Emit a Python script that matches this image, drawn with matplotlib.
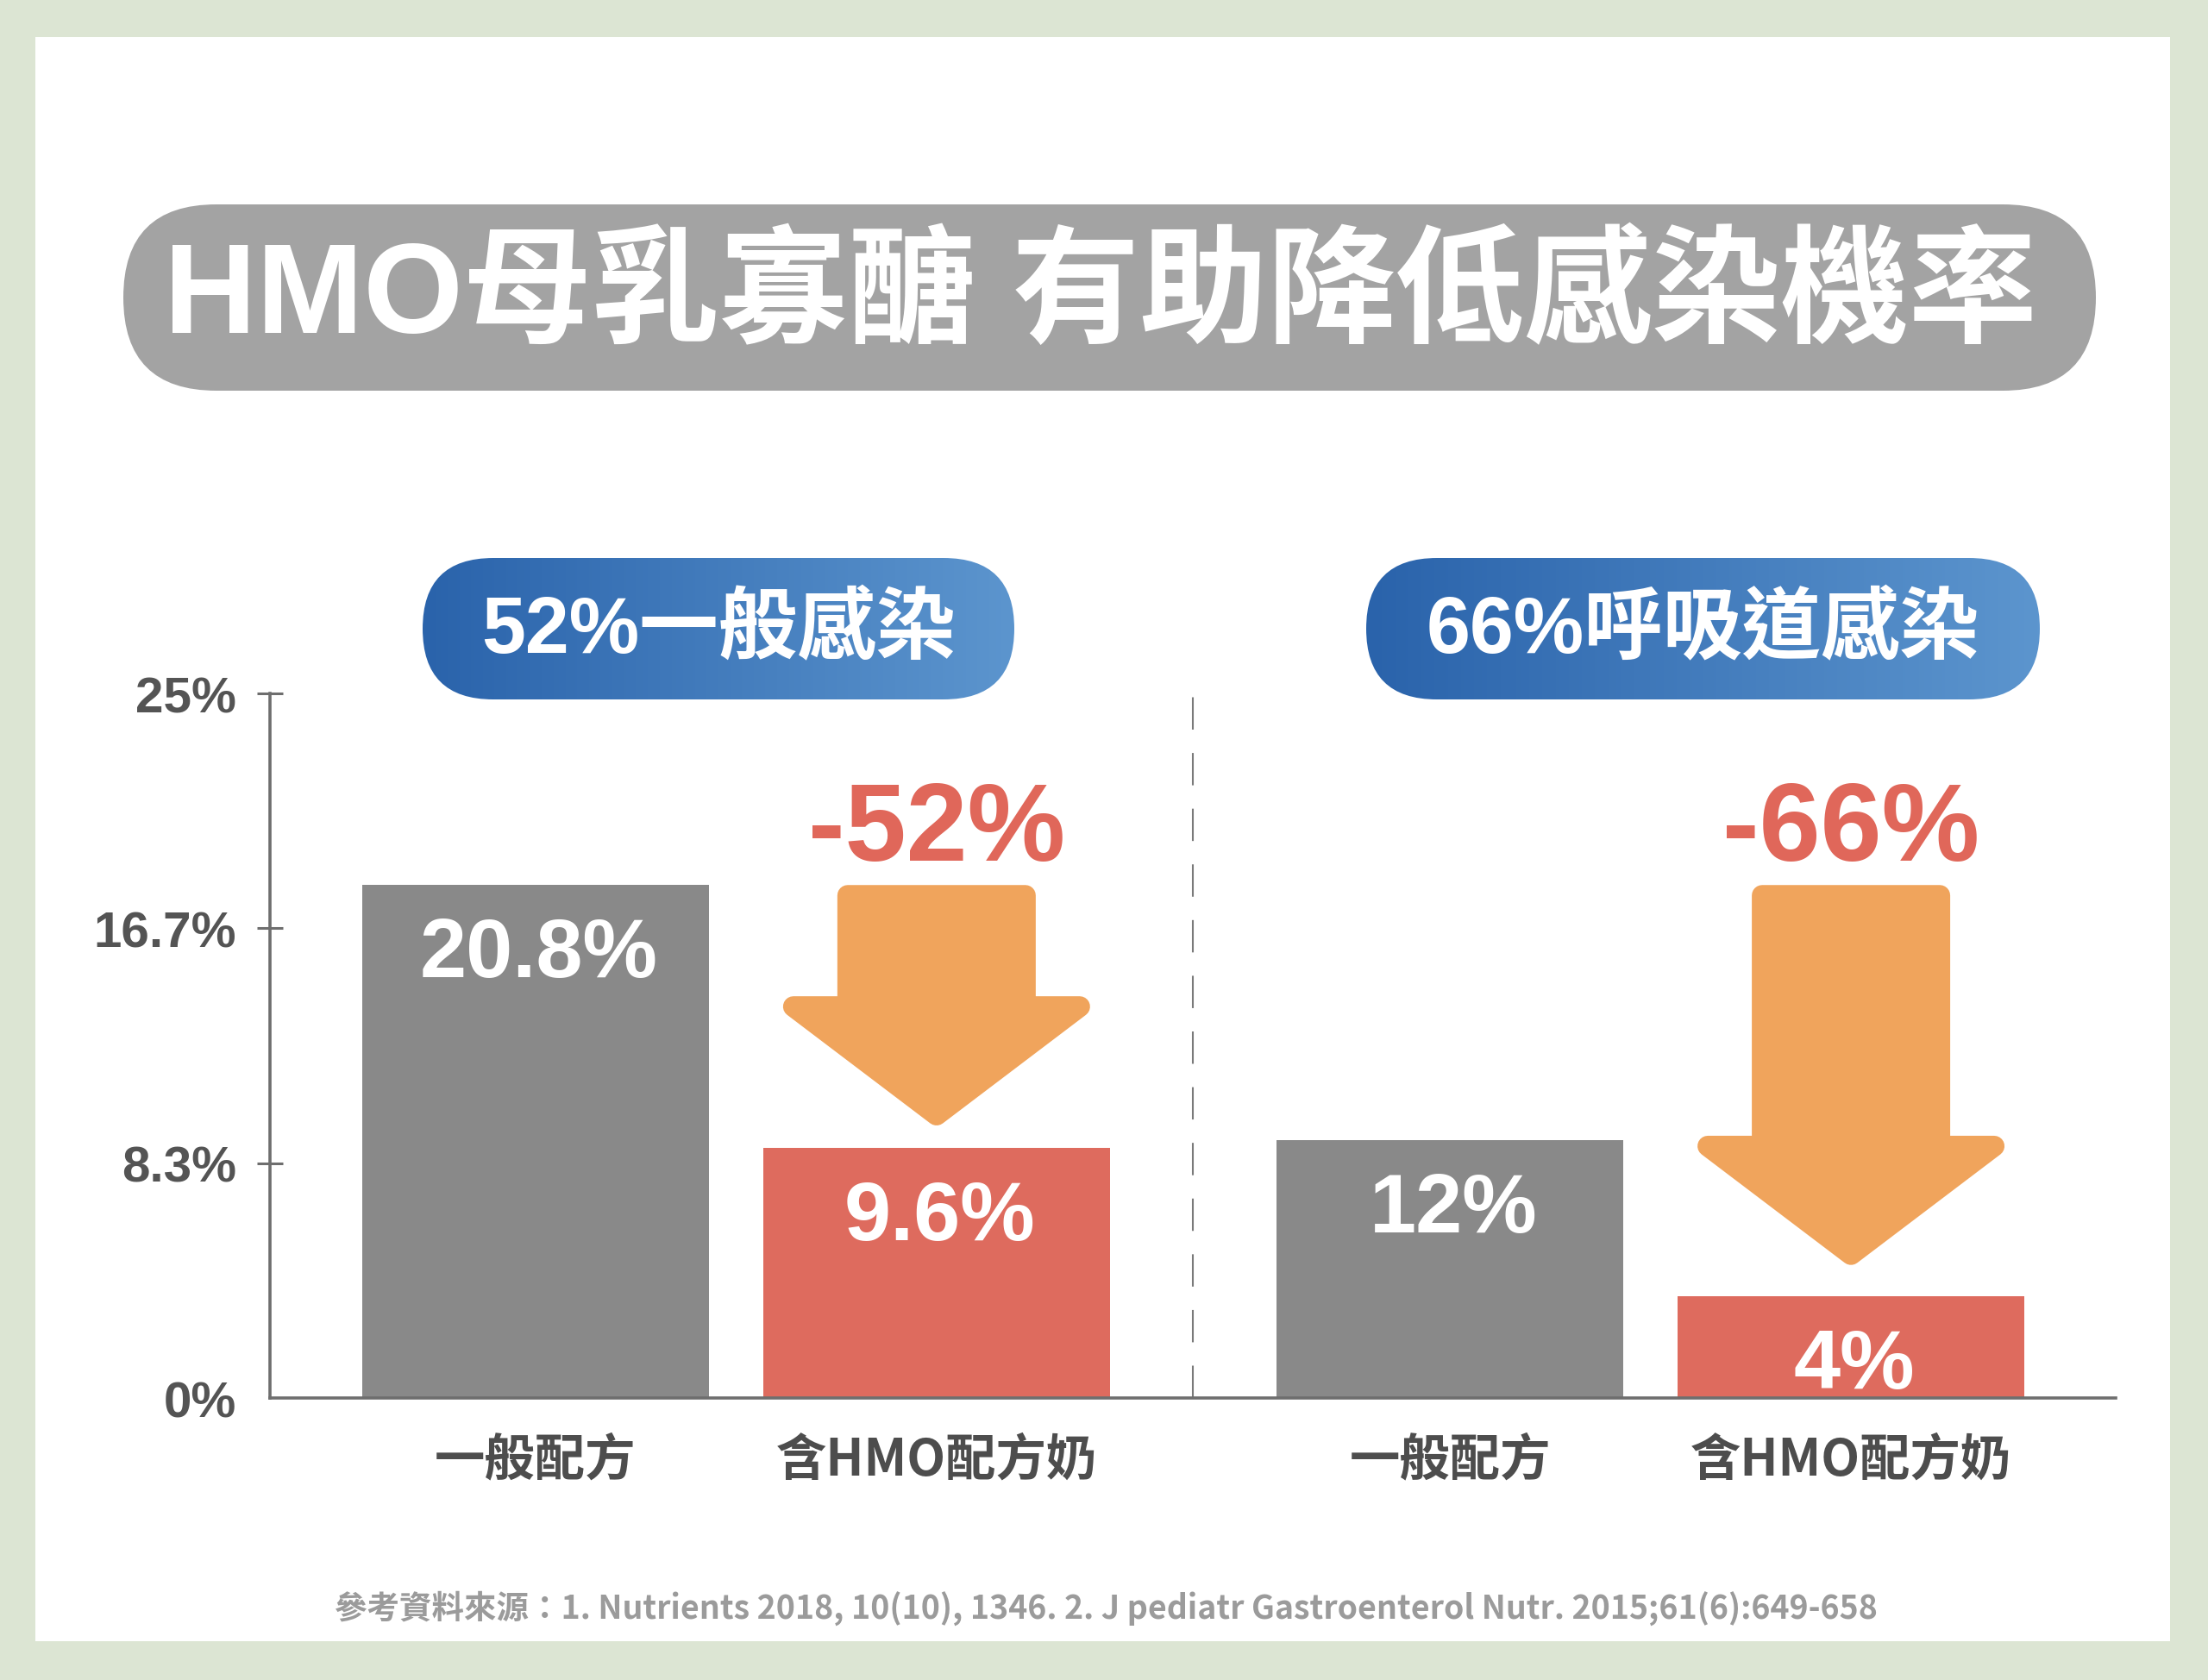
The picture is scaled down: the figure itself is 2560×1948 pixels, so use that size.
import numpy as np
import matplotlib
matplotlib.use("Agg")
import matplotlib.pyplot as plt
from matplotlib.patches import FancyBboxPatch, Polygon, Rectangle
from matplotlib.colors import LinearSegmentedColormap

# ---------------------------------------------------------------------------
# datos
# ---------------------------------------------------------------------------
title = "HMO母乳寡醣 有助降低感染機率"
group_titles = ["52%一般感染", "66%呼吸道感染"]
categories = ["一般配方", "含HMO配方奶", "一般配方", "含HMO配方奶"]
value_labels = ["20.8%", "9.6%", "12%", "4%"]
# altura de cada barra tal como está dibujada contra el eje
bar_heights = [18.2, 8.87, 9.15, 3.61]
bar_x = [0.0, 1.0, 2.28, 3.28]
drop_labels = ["-52%", "-66%"]
arrow_top = [18.2, 18.2]
arrow_tip = [9.45, 4.5]
ytick_vals = [0, 25 / 3, 50 / 3, 25]
ytick_labels = ["0%", "8.3%", "16.7%", "25%"]
source = ("參考資料來源：1. Nutrients 2018, 10(10), 1346. "
          "2. J pediatr Gastroenterol Nutr. 2015;61(6):649-658")

# ---------------------------------------------------------------------------
# estilo
# ---------------------------------------------------------------------------
W, H = 2560, 1949
LAT = ["Liberation Sans", "Noto Sans CJK TC", "DejaVu Sans"]
CJK = ["Noto Sans CJK TC", "Liberation Sans", "DejaVu Sans"]
GRAY_BAR = "#898989"
RED_BAR = "#DE6B5E"
ORANGE = "#F0A45C"
RED_TXT = "#E0675A"
AXIS = "#6E6E6E"

fig = plt.figure(figsize=(W / 100, H / 100), dpi=100)
fig.patch.set_facecolor("#DCE5D3")

# capa de fondo en píxeles (y hacia abajo)
bg = fig.add_axes([0, 0, 1, 1], zorder=0)
bg.axis("off")

bg.add_patch(Rectangle((41, 44), 2516 - 41, 1904 - 44, facecolor="white",
                       edgecolor="none"))

# píldora del título
bg.add_patch(FancyBboxPatch((143, 238), 2430 - 143, 454 - 238,
                            boxstyle="round,pad=0,rounding_size=108",
                            facecolor="#A3A3A3", edgecolor="none"))
bg.text(1276, 346, title, color="white", fontsize=107, fontweight="bold",
        family=LAT, ha="center", va="center")


def pildora_degradada(x0, y0, x1, y1, texto):
    r = (y1 - y0) / 2
    patch = FancyBboxPatch((x0, y0), x1 - x0, y1 - y0,
                           boxstyle=f"round,pad=0,rounding_size={r}",
                           facecolor="none", edgecolor="none")
    bg.add_patch(patch)
    cmap = LinearSegmentedColormap.from_list("azul", ["#2A63AB", "#5C95CE"])
    im = bg.imshow(np.linspace(0, 1, 256)[None, :], cmap=cmap,
                   extent=(x0, x1, y1, y0), aspect="auto", zorder=1)
    im.set_clip_path(patch)
    bg.text((x0 + x1) / 2, (y0 + y1) / 2 + 2, texto, color="white",
            fontsize=66, fontweight="bold", family=LAT,
            ha="center", va="center", zorder=2)


pildora_degradada(490, 648, 1176, 812, group_titles[0])
pildora_degradada(1584, 648, 2365, 812, group_titles[1])

bg.text(1282, 1865, source, color="#9B9B9B", fontsize=27, fontweight="bold",
        family=CJK, ha="center", va="center")

bg.set_xlim(0, W)
bg.set_ylim(H, 0)

# ---------------------------------------------------------------------------
# gráfico de barras
# ---------------------------------------------------------------------------
ax_l, ax_r, ax_t, ax_b = 313, 2453, 805, 1622
ax = fig.add_axes([ax_l / W, 1 - ax_b / H, (ax_r - ax_l) / W,
                   (ax_b - ax_t) / H], zorder=1)
ax.patch.set_alpha(0)
ax.set_xlim(-0.662, 3.94)
ax.set_ylim(0, 25)
XPX = (3.94 + 0.662) / (ax_r - ax_l)   # unidades x por píxel
YPX = 25 / (ax_b - ax_t)              # unidades y por píxel

colors = [GRAY_BAR, RED_BAR, GRAY_BAR, RED_BAR]
ax.bar(bar_x, bar_heights, width=0.865, color=colors, zorder=2)

for x, h, lab in zip(bar_x, bar_heights, value_labels):
    ax.annotate(lab, xy=(x, h), xytext=(4, -81), textcoords="offset pixels",
                ha="center", va="center", color="white", fontsize=70,
                fontweight="bold", family=LAT, zorder=3)

# separador entre grupos
ax.axvline((bar_x[1] + bar_x[2]) / 2, color="#7A7A7A", lw=1.5,
           dashes=(18, 13), zorder=1)


# flechas de reducción
def flecha(xc, top, tip, r=12):
    sh, wh, head = 115, 178, 157
    pts_px = [(-sh + r, r), (sh - r, r), (sh - r, -1), (wh - r, -1),
              (0, None), (-wh + r, -1), (-sh + r, -1)]
    wing_y = tip + (head - r) * YPX
    verts = []
    for dx, kind in pts_px:
        vx = xc + dx * XPX
        if kind is None:
            vy = tip + 1.6 * r * YPX
        elif kind == -1:
            vy = wing_y
        else:
            vy = top - kind * YPX
        verts.append((vx, vy))
    ax.add_patch(Polygon(verts, closed=True, facecolor=ORANGE,
                         edgecolor=ORANGE, lw=2 * r * 0.72,
                         joinstyle="round", zorder=2))


for x, top, tip, lab in zip(bar_x[1::2], arrow_top, arrow_tip, drop_labels):
    flecha(x, top, tip)
    ax.annotate(lab, xy=(x, top), xytext=(0, 62), textcoords="offset pixels",
                ha="center", va="center", color=RED_TXT, fontsize=92,
                fontweight="bold", family=LAT, zorder=3)

# ejes
for s in ("top", "right"):
    ax.spines[s].set_visible(False)
for s in ("left", "bottom"):
    ax.spines[s].set_color(AXIS)
    ax.spines[s].set_linewidth(2.6)
    ax.spines[s].set_zorder(4)

ax.set_yticks(ytick_vals, ytick_labels)
ax.tick_params(axis="y", direction="inout", length=22, width=2.2,
               color=AXIS, pad=17, labelsize=42, labelcolor="#545454")
for t in ax.get_yticklabels():
    t.set_fontweight("bold")
    t.set_family(LAT)
ax.yaxis.get_major_ticks()[0].tick1line.set_visible(False)

ax.set_xticks(bar_x, categories)
ax.tick_params(axis="x", length=0, pad=30, labelsize=42,
               labelcolor="#4D4D4D")
for t in ax.get_xticklabels():
    t.set_fontweight("bold")
    t.set_family(CJK)

fig.savefig("out.png", dpi=100, facecolor=fig.get_facecolor())
